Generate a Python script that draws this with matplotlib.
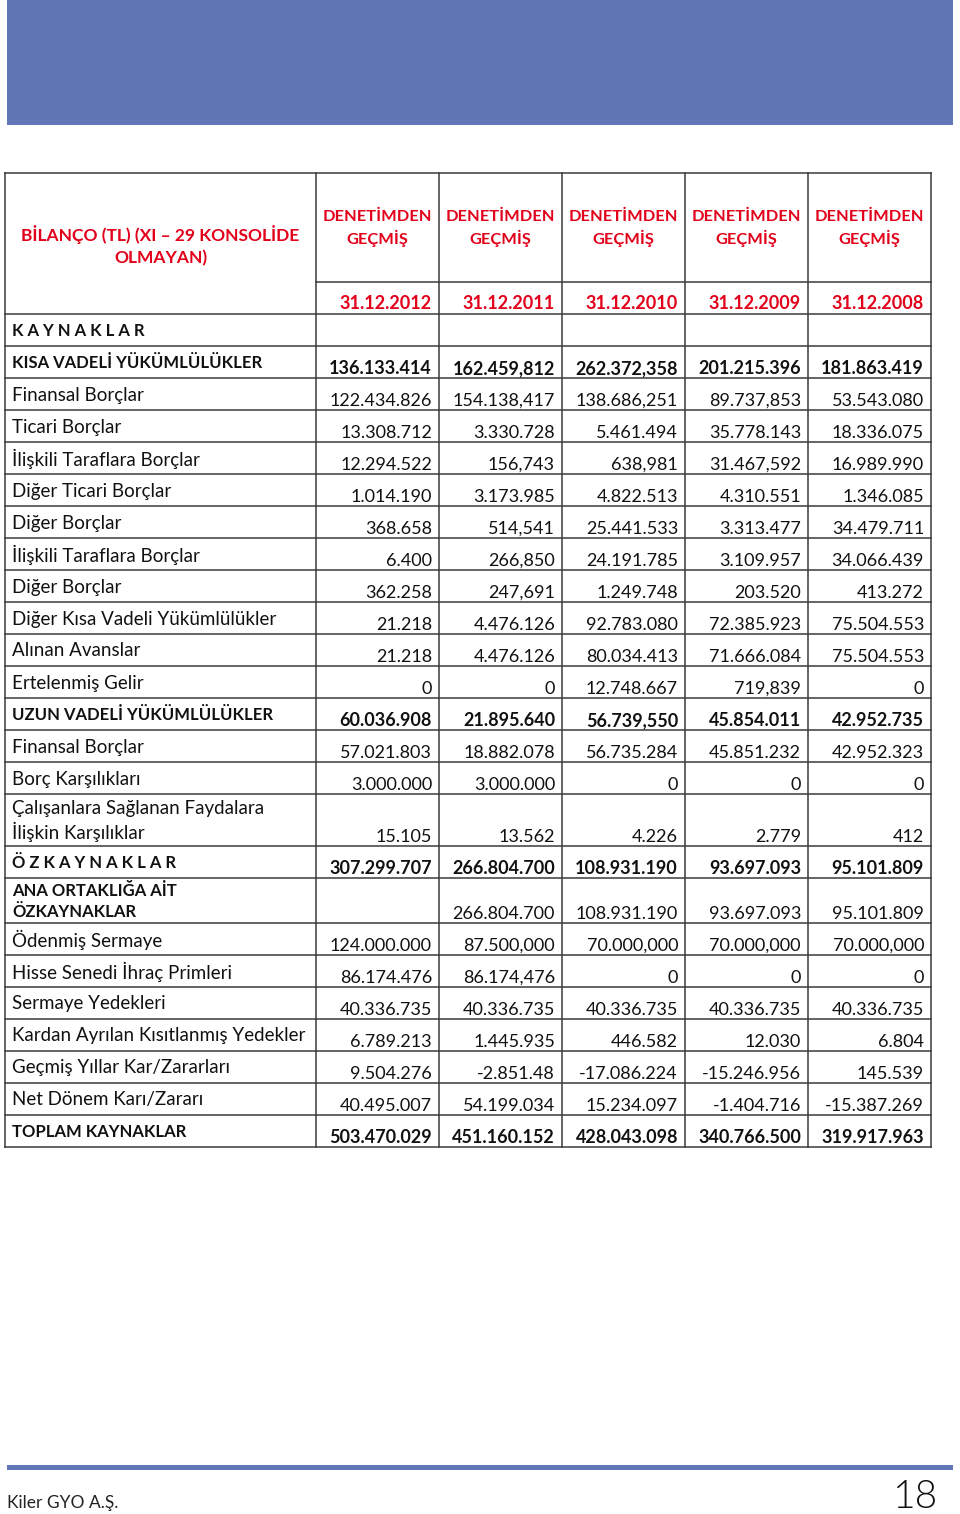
"""Kiler GYO bilanço sayfası (kaynaklar tablosu) - matplotlib ile yeniden çizim."""

import matplotlib.pyplot as plt
from matplotlib.patches import Rectangle

# ---- veri -------------------------------------------------------------
title_text = "BİLANÇO (TL) (XI – 29 KONSOLİDE\nOLMAYAN)"
audit_text = "DENETİMDEN\nGEÇMİŞ"
dates = ["31.12.2012", "31.12.2011", "31.12.2010", "31.12.2009", "31.12.2008"]

row_labels = [
    "K A Y N A K L A R",
    "KISA VADELİ YÜKÜMLÜLÜKLER",
    "Finansal Borçlar",
    "Ticari Borçlar",
    "İlişkili Taraflara Borçlar",
    "Diğer Ticari Borçlar",
    "Diğer Borçlar",
    "İlişkili Taraflara Borçlar",
    "Diğer Borçlar",
    "Diğer Kısa Vadeli Yükümlülükler",
    "Alınan Avanslar",
    "Ertelenmiş Gelir",
    "UZUN VADELİ YÜKÜMLÜLÜKLER",
    "Finansal Borçlar",
    "Borç Karşılıkları",
    "Çalışanlara Sağlanan Faydalara\nİlişkin Karşılıklar",
    "Ö Z K A Y N A K L A R",
    "ANA ORTAKLIĞA AİT\nÖZKAYNAKLAR",
    "Ödenmiş Sermaye",
    "Hisse Senedi İhraç Primleri",
    "Sermaye Yedekleri",
    "Kardan Ayrılan Kısıtlanmış Yedekler",
    "Geçmiş Yıllar Kar/Zararları",
    "Net Dönem Karı/Zararı",
    "TOPLAM KAYNAKLAR",
]

# değerler tablodaki yazımıyla (nokta/virgül karışık) tutuldu
values_2012 = ["", "136.133.414", "122.434.826", "13.308.712", "12.294.522", "1.014.190",
               "368.658", "6.400", "362.258", "21.218", "21.218", "0", "60.036.908",
               "57.021.803", "3.000.000", "15.105", "307.299.707", "", "124.000.000",
               "86.174.476", "40.336.735", "6.789.213", "9.504.276", "40.495.007",
               "503.470.029"]
values_2011 = ["", "162.459,812", "154.138,417", "3.330.728", "156,743", "3.173.985",
               "514,541", "266,850", "247,691", "4.476.126", "4.476.126", "0", "21.895.640",
               "18.882.078", "3.000.000", "13.562", "266.804.700", "266.804.700",
               "87.500,000", "86.174,476", "40.336.735", "1.445.935", "-2.851.48",
               "54.199.034", "451.160.152"]
values_2010 = ["", "262.372,358", "138.686,251", "5.461.494", "638,981", "4.822.513",
               "25.441.533", "24.191.785", "1.249.748", "92.783.080", "80.034.413",
               "12.748.667", "56.739,550", "56.735.284", "0", "4.226", "108.931.190",
               "108.931.190", "70.000,000", "0", "40.336.735", "446.582", "-17.086.224",
               "15.234.097", "428.043.098"]
values_2009 = ["", "201.215.396", "89.737,853", "35.778.143", "31.467,592", "4.310.551",
               "3.313.477", "3.109.957", "203.520", "72.385.923", "71.666.084", "719,839",
               "45.854.011", "45.851.232", "0", "2.779", "93.697.093", "93.697.093",
               "70.000,000", "0", "40.336.735", "12.030", "-15.246.956", "-1.404.716",
               "340.766.500"]
values_2008 = ["", "181.863.419", "53.543.080", "18.336.075", "16.989.990", "1.346.085",
               "34.479.711", "34.066.439", "413.272", "75.504.553", "75.504.553", "0",
               "42.952.735", "42.952.323", "0", "412", "95.101.809", "95.101.809",
               "70.000,000", "0", "40.336.735", "6.804", "145.539", "-15.387.269",
               "319.917.963"]

bold_label_rows = {0, 1, 12, 16, 17, 24}
bold_value_rows = {1, 12, 16, 24}

# ---- yerleşim (piksel) -------------------------------------------------
col_edges = [5, 316, 439, 562, 685, 808, 931]
table_top, header_bottom, date_bottom = 173, 282, 314
row_heights = [32] * 15 + [52, 32, 45] + [32] * 7

RED = "#E2001A"
BLUE = "#6176B5"
LINE = "#3a3a3a"
FONT = ["Lato", "DejaVu Sans"]
LW = 1.1

fig = plt.figure(figsize=(9.6, 15.14), dpi=100)
ax = fig.add_axes([0, 0, 1, 1])
ax.set_xlim(0, 960)
ax.set_ylim(1514, 0)
ax.axis("off")

# üst mavi bant ve alt çizgi
ax.add_patch(Rectangle((7, 0), 946, 125, facecolor=BLUE, edgecolor="none"))
ax.add_patch(Rectangle((7, 1465), 946, 5, facecolor=BLUE, edgecolor="none"))

# satır sınırları
row_edges = [date_bottom]
for h in row_heights:
    row_edges.append(row_edges[-1] + h)
table_bottom = row_edges[-1]

# dikey çizgiler
for x in col_edges:
    ax.plot([x, x], [table_top, table_bottom], color=LINE, lw=LW, solid_capstyle="projecting")
# yatay çizgiler
ax.plot([col_edges[0], col_edges[-1]], [table_top, table_top], color=LINE, lw=LW)
ax.plot([col_edges[1], col_edges[-1]], [header_bottom, header_bottom], color=LINE, lw=LW)
for y in row_edges:
    ax.plot([col_edges[0], col_edges[-1]], [y, y], color=LINE, lw=LW)

# başlık hücreleri
ax.text((col_edges[0] + col_edges[1]) / 2, (table_top + date_bottom) / 2 + 2, title_text,
        ha="center", va="center", color=RED, fontsize=12.5, fontweight="bold",
        family=FONT, linespacing=1.45)
for i, date in enumerate(dates):
    left, right = col_edges[i + 1], col_edges[i + 2]
    ax.text((left + right) / 2, (table_top + header_bottom) / 2 + 1, audit_text,
            ha="center", va="center", color=RED, fontsize=11.8, fontweight="bold",
            family=FONT, linespacing=1.45)
    ax.text(right - 7, date_bottom - 5, date, ha="right", va="baseline", color=RED,
            fontsize=13, fontweight="bold", family=FONT)

# gövde
columns = [values_2012, values_2011, values_2010, values_2009, values_2008]
for r, label in enumerate(row_labels):
    top, bottom = row_edges[r], row_edges[r + 1]
    is_bold = r in bold_label_rows
    ax.text(col_edges[0] + 7, (top + bottom) / 2 + 1, label, ha="left", va="center",
            fontsize=12 if is_bold else 13.5, family=FONT,
            linespacing=1.45 if is_bold else 1.3,
            fontweight="bold" if is_bold else "normal", color="#111111")
    for c, col in enumerate(columns):
        ax.text(col_edges[c + 2] - 7, bottom - 4, col[r], ha="right", va="baseline",
                fontsize=13, family=FONT, color="#111111",
                fontweight="bold" if r in bold_value_rows else "normal")

# alt bilgi
ax.text(7, 1508, "Kiler GYO A.Ş.", ha="left", va="baseline", fontsize=12.5, family=FONT,
        color="#222222")
ax.text(938, 1508, "18", ha="right", va="baseline", fontsize=28, family=FONT,
        fontweight=300, color="#111111")

fig.savefig("out.png", dpi=100)
plt.close(fig)
